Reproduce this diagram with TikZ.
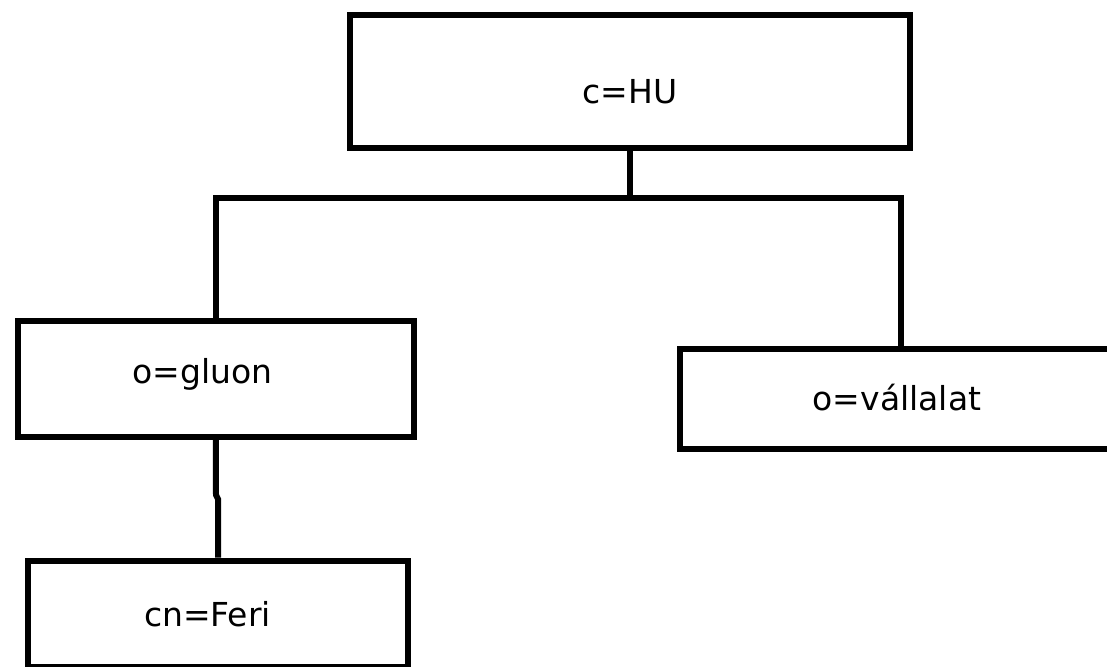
\documentclass[tikz,border=0pt]{standalone}
\usepackage{fontspec}
\setmainfont{DejaVu Sans}
\begin{document}
\begin{tikzpicture}[x=1pt,y=-1pt,
  box/.style={draw=black,line width=6pt,inner sep=0pt,anchor=north,
    font=\fontsize{33}{40}\selectfont},
  conn/.style={draw=black,line width=6pt}]
\useasboundingbox (0,0) rectangle (1107,666);
\clip (0,0) rectangle (1107,666);
\fill[white] (0,0) rectangle (1107,666);
\node[box,minimum width=560pt,text height=88pt,text depth=45pt] (top) at (630,12) {c=HU};
\node[box,minimum width=395.5pt,text height=62pt,text depth=53.5pt] (gluon) at (215.75,318) {o=gluon\kern26pt};
\node[box,minimum width=435pt,text height=61.5pt,text depth=38.5pt] (vall) at (897,345.5) {o=vállalat};
\node[box,minimum width=380pt,text height=65.5pt,text depth=41pt] (feri) at (218,557.5) {cn=Feri\kern21pt};
\coordinate (j) at (630,198);
\coordinate (vr) at (901,345.5);
\coordinate (k1) at (216,495);
\coordinate (k2) at (218,499);
\draw[conn] (top.south) -- (j);
\draw[conn] (j) -| (gluon.north);
\draw[conn] (j) -| (vr);
\draw[conn] (gluon.south) -- (k1) -- (k2) -- (feri.north);
\end{tikzpicture}
\end{document}
